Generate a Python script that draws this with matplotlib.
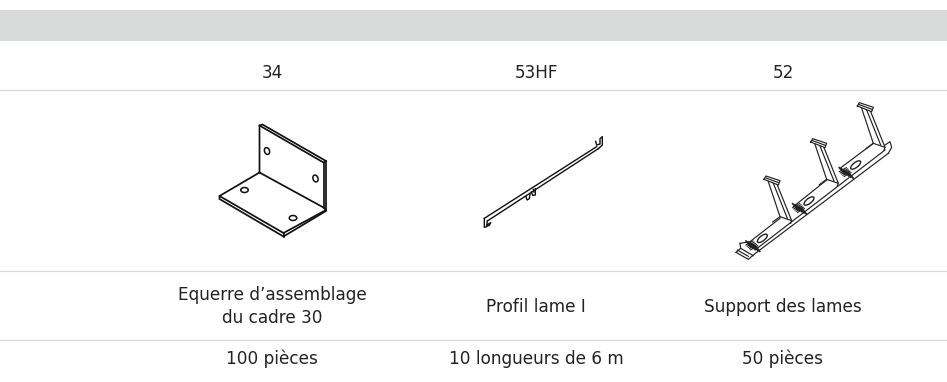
import matplotlib
matplotlib.use('Agg')
import matplotlib.pyplot as plt

W, H = 947, 382

# ---------------------------------------------- table content
col_x = [272, 536, 783]
codes = ['34', '53HF', '52']
names = ['Equerre d\u2019assemblage\ndu cadre 30', 'Profil lame I', 'Support des lames']
packs = ['100 pi\u00e8ces', '10 longueurs de 6 m', '50 pi\u00e8ces']
row_lines = [90, 271, 340]
band = (10, 41)

# ---------------------------------------------- bracket (pixels)
bracket = [
    [(259.5, 172.5), (259.5, 125.5), (262.5, 124.5), (326, 161), (326, 210), (323.5, 207.5), (259.5, 172.5)],
    [(259.5, 125.5), (323.5, 162.5), (326, 161)],
    [(323.5, 162.5), (323.5, 207.5)],
    [(259.5, 172.5), (219.5, 196), (283.5, 233), (326, 210)],
    [(219.5, 196), (219.5, 199), (283.5, 236.5), (326, 211)],
    [(283.5, 233), (283.5, 236.5)],
]
bracket_holes = [(267, 151, 5, 7, -20), (315.5, 178.5, 5, 7, -20), (244.5, 190, 7.5, 5, 0), (293, 218, 7.5, 5, 0)]

# ---------------------------------------------- blade profile (crop at 430,120, 3x)
pro_origin = (430, 120)
profile = [
    [(163, 295), (500, 80)],
    [(172, 303), (505, 86)],
    [(497, 64), (500, 75), (510, 72), (510, 56), (517, 50), (517, 75), (505, 86)],
    [(163, 295), (163, 322), (170, 320), (172, 303)],
    [(172, 314), (182, 308), (178, 316), (172, 318)],
    [(288, 230), (291, 240), (298, 236), (300, 222)],
    [(304, 216), (308, 226), (316, 225), (316, 206)],
    [(310, 208), (312, 216)],
]

# ---------------------------------------------- blade support (crop at 700,90, 3x)
sup_origin = (700, 90)
sup_base = [
    [(108, 487), (145, 508), (170, 487), (565, 190)],
    [(108, 487), (122, 475), (160, 497)],
    [(120, 460), (122, 475)],
    [(120, 460), (150, 455), (165, 480), (555, 180)],
    [(150, 455), (240, 385)],
    [(280, 350), (380, 270)],
    [(420, 235), (520, 160)],
    [(555, 165), (570, 155), (575, 172), (565, 190)],
    [(112, 480), (145, 499)],
]
sup_arm = [
    [(205, 275), (240, 380), (275, 392)],
    [(220, 280), (262, 385)],
    [(232, 285), (275, 392), (272, 400)],
    [(192, 268), (198, 258), (240, 272), (235, 285), (192, 268)],
    [(198, 264), (236, 278)],
    [(240, 380), (218, 396)],
]
sup_arm_shift = [(0, 0), (140, -112), (280, -220)]
sup_slot = [(187, 445)]
sup_hatch = [(150, 465)]


def crop(pts, origin, shift=(0, 0)):
    return ([origin[0] + (p[0] + shift[0]) / 3 for p in pts],
            [origin[1] + (p[1] + shift[1]) / 3 for p in pts])


fig = plt.figure(figsize=(W / 100, H / 100), dpi=100, facecolor='white')
ax = fig.add_axes([0, 0, 1, 1])
ax.set_xlim(0, W)
ax.set_ylim(H, 0)
ax.axis('off')

ax.axhspan(band[0], band[1], color='#d9dada', lw=0)
for y in row_lines:
    ax.plot([0, W], [y, y], color='#d9d9d9', lw=0.9)

font = dict(family='DejaVu Sans', fontsize=12.2, color='#222222', ha='center', va='center')
for x, c, n, p in zip(col_x, codes, names, packs):
    ax.text(x, 73, c, **font)
    ax.text(x, 306.5, n, linespacing=1.42, **font)
    ax.text(x, 358.5, p, **font)

for line in bracket:
    ax.plot(*zip(*line), color='#111111', lw=1.25, solid_joinstyle='miter')
for hx, hy, w, h, ang in bracket_holes:
    ax.add_patch(matplotlib.patches.Ellipse((hx, hy), w, h, angle=ang, fill=False, ec='#111111', lw=1.1))

for line in profile:
    ax.plot(*crop(line, pro_origin), color='#111111', lw=1.0)

for line in sup_base:
    ax.plot(*crop(line, sup_origin), color='#222222', lw=0.85)
for shift in sup_arm_shift:
    for line in sup_arm:
        ax.plot(*crop(line, sup_origin, shift), color='#222222', lw=0.85)
    sx, sy = crop(sup_slot, sup_origin, shift)
    ax.add_patch(matplotlib.patches.Ellipse((sx[0], sy[0]), 12, 5, angle=-38, fill=False, ec='#222222', lw=1.0))
    hx, hy = crop(sup_hatch, sup_origin, shift)
    for i in range(5):
        ax.plot([hx[0] - 4 + i * 2.2, hx[0] + 1 + i * 2.2], [hy[0] - 4 + i * 1.1, hy[0] + 2 + i * 1.1],
                color='#222222', lw=1.2)
        ax.plot([hx[0] - 4 + i * 1.2, hx[0] + 3 + i * 1.2], [hy[0] + i * 1.2, hy[0] - 4 + i * 1.2],
                color='#222222', lw=0.8)

fig.savefig('out.png', dpi=100)
